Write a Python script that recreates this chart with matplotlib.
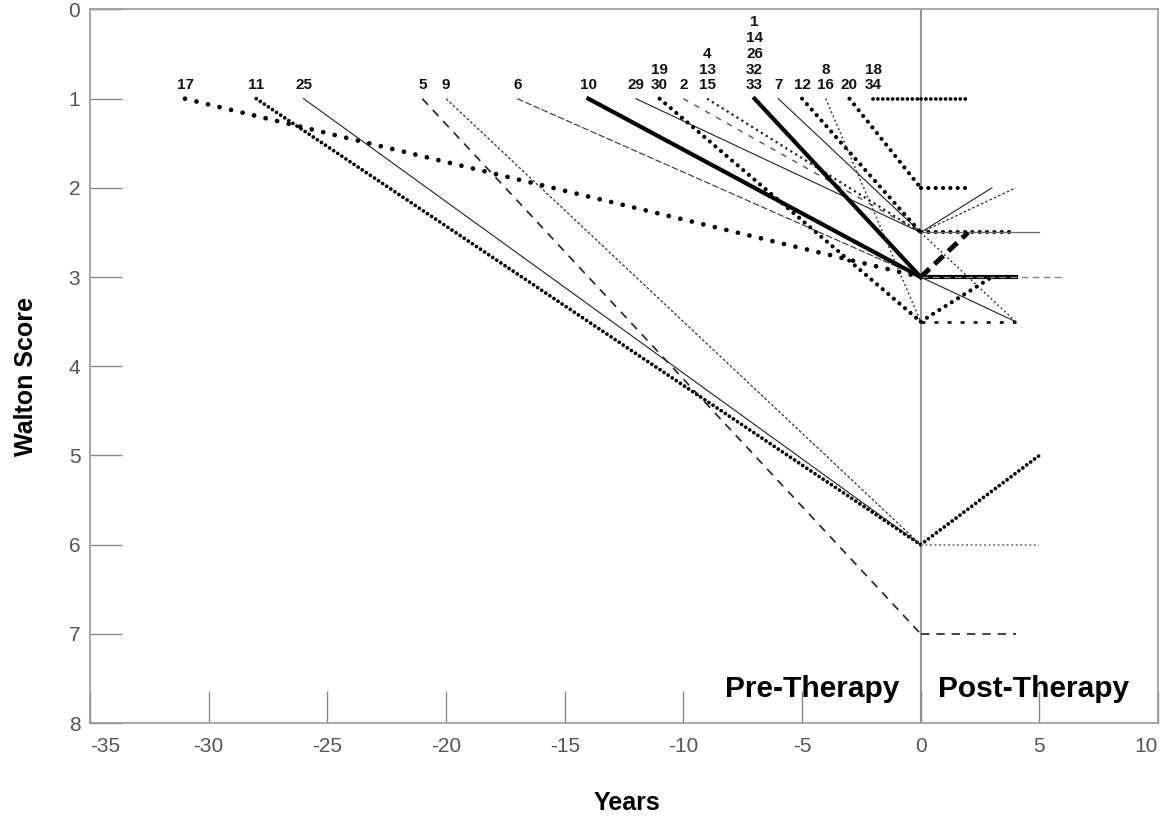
import numpy as np
import matplotlib
matplotlib.use("Agg")
from matplotlib import pyplot as plt

plt.rcParams['font.family'] = ['Liberation Sans', 'DejaVu Sans']
plt.rcParams['axes.unicode_minus'] = False

# pre-therapy course: onset (score 1) -> score when therapy started (year 0)
patient_labels = ["17", "11", "25", "5", "9", "6", "10", "29", "19\n30", "2",
                  "4\n13\n15", "1\n14\n26\n32\n33", "7", "12", "8\n16", "20", "18\n34"]
onset_years = [-31, -28, -26, -21, -20, -17, -14, -12, -11, -10, -9, -7, -6, -5, -4, -3, -2]
onset_scores = [1, 1, 1, 1, 1, 1, 1, 1, 1, 1, 1, 1, 1, 1, 1, 1, 1]
therapy_scores = [3, 6, 6, 7, 6, 3, 3, 2.5, 3.5, 2.5, 2.5, 3, 2.5, 2.5, 3.5, 2, 1]
pre_styles = ["wide_dots", "dense_dots", "thin", "dash", "fine_dash", "thin_dash", "thick",
              "thin", "dots", "light_dash", "small_dots", "thick", "thin", "dots",
              "fine_dots", "dots", "dense_dots"]

# post-therapy course: score at year 0 -> score at follow-up
post_start_scores = [1, 2, 2.5, 2.5, 2.5, 2.5, 2.5, 3, 3, 3, 3, 3.5, 3.5, 6, 6, 7]
post_end_years = [2, 2, 3, 4, 4, 5, 4, 2, 4, 6, 4, 3, 4, 5, 5, 4]
post_end_scores = [1, 2, 2, 2, 2.5, 2.5, 3.5, 2.5, 3, 3, 3.5, 3, 3.5, 5, 6, 7]
post_styles = ["dense_dots", "dots", "thin", "fine_dash", "dots", "thin_gray", "fine_dots",
               "thick_dash", "thick", "gray_dash", "thin", "dots", "square_dots",
               "dense_dots", "gray_dots", "dash"]

styles = {
    "wide_dots": dict(color="k", lw=3.4, linestyle=(0, (0.01, 2.5)), dash_capstyle="round"),
    "dense_dots": dict(color="k", lw=2.7, linestyle=(0, (0.01, 1.3)), dash_capstyle="round"),
    "dots": dict(color="k", lw=3.0, linestyle=(0, (0.01, 1.75)), dash_capstyle="round"),
    "small_dots": dict(color="#222", lw=1.6, linestyle=(0, (1.0, 1.6))),
    "fine_dots": dict(color="#333", lw=1.1, linestyle=(0, (1.2, 1.8))),
    "square_dots": dict(color="#111", lw=2.0, linestyle=(0, (1.4, 3.3))),
    "gray_dots": dict(color="#777", lw=1.3, linestyle=(0, (1.0, 1.5))),
    "thin": dict(color="#222", lw=0.8, linestyle="-"),
    "thin_gray": dict(color="#666", lw=0.9, linestyle="-"),
    "thick": dict(color="k", lw=3.0, linestyle="-"),
    "dash": dict(color="#222", lw=1.2, linestyle=(0, (5.0, 4.2))),
    "fine_dash": dict(color="#333", lw=0.9, linestyle=(0, (2.2, 1.6))),
    "thin_dash": dict(color="#333", lw=0.8, linestyle=(0, (6.0, 2.0))),
    "light_dash": dict(color="#555", lw=1.0, linestyle=(0, (4.0, 5.0))),
    "gray_dash": dict(color="#888", lw=1.0, linestyle=(0, (5.0, 3.0))),
    "thick_dash": dict(color="k", lw=3.5, linestyle=(0, (2.5, 1.4))),
}

fig = plt.figure(figsize=(11.6, 8.17), dpi=100)
ax = fig.add_axes([0.0776, 0.115, 0.9207, 0.8734])

ax.axvline(0, color="#999", lw=1.5, zorder=1)

for x0, y0, y1, st in zip(onset_years, onset_scores, therapy_scores, pre_styles):
    ax.plot([x0, 0], [y0, y1], zorder=3, **styles[st])

for y0, x1, y1, st in zip(post_start_scores, post_end_years, post_end_scores, post_styles):
    ax.plot([0, x1], [y0, y1], zorder=3, **styles[st])

for lab, x0 in zip(patient_labels, onset_years):
    ax.text(x0, 0.93, lab, ha="center", va="bottom", fontsize=11, fontweight="bold",
            linespacing=1.17, color="#111")

ax.text(-0.9, 7.62, "Pre-Therapy", ha="right", va="center", fontsize=21.5, fontweight="bold")
ax.text(0.75, 7.62, "Post-Therapy", ha="left", va="center", fontsize=21.5, fontweight="bold")

ax.set_xlim(-35, 10)
ax.set_ylim(8, 0)
ax.set_xticks(np.arange(-35, 11, 5))
ax.set_yticks(np.arange(0, 9, 1))

ax.tick_params(axis="both", direction="in", length=23, width=1, color="#888",
               labelsize=15, labelcolor="#555")
ax.tick_params(axis="x", pad=10)
ax.tick_params(axis="y", pad=7)
xlabels = ax.get_xticklabels()
xlabels[0].set_horizontalalignment("left")
xlabels[-1].set_horizontalalignment("right")
for sp in ax.spines.values():
    sp.set_color("#999")
    sp.set_linewidth(1.2)

fig.text(627 / 1160, 1 - 803 / 817, "Years", ha="center", va="center",
         fontsize=18, fontweight="bold")
fig.text(26 / 1160, 1 - 377 / 817, "Walton Score", ha="center", va="center",
         rotation=90, fontsize=18, fontweight="bold")

fig.savefig("out.png", dpi=100)
